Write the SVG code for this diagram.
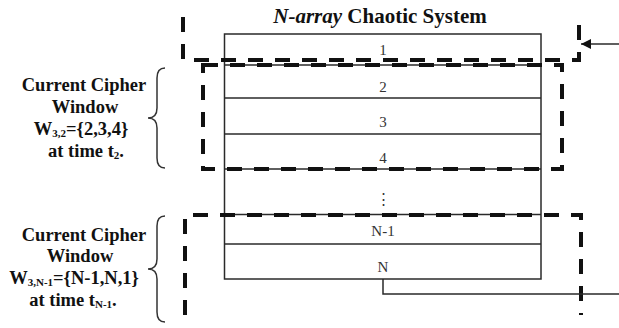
<svg xmlns="http://www.w3.org/2000/svg" width="619" height="328" viewBox="0 0 619 328">
<style>
.bg{fill:#ffffff}
.cell{fill:none;stroke:#2a2a2a;stroke-width:1.5}
.num{font-family:"Liberation Serif","Times New Roman",serif;font-size:15px;fill:#333;text-anchor:middle}
.lbl{font-family:"Liberation Serif","Times New Roman",serif;font-size:18.5px;font-weight:bold;fill:#111;text-anchor:middle}
.sub{font-size:11px}
.title{font-family:"Liberation Serif","Times New Roman",serif;font-size:21px;font-weight:bold;fill:#111;text-anchor:middle}
.win{fill:none;stroke:#111;stroke-width:4;stroke-dasharray:15 12}
.brace{fill:none;stroke:#333;stroke-width:1.5}
.conn{fill:none;stroke:#2a2a2a;stroke-width:1.5}
</style>
<defs>
<marker id="arr" markerWidth="10" markerHeight="10" refX="10" refY="5" orient="auto" markerUnits="userSpaceOnUse">
<path d="M0,0 L10,5 L0,10 Z" fill="#111"/>
</marker>
</defs>
<rect class="bg" x="0" y="0" width="619" height="328"/>
<g id="title"><text class="title" x="380" y="23"><tspan font-style="italic">N-array</tspan> Chaotic System</text></g>
<g id="system">
<rect class="cell" x="224.5" y="34" width="316.5" height="245"/>
<g id="row1"><text class="num" x="383" y="55">1</text></g>
<g id="row2"><line class="cell" x1="224.5" y1="65" x2="541" y2="65"/><text class="num" x="383" y="92">2</text></g>
<g id="row3"><line class="cell" x1="224.5" y1="98" x2="541" y2="98"/><text class="num" x="383" y="127">3</text></g>
<g id="row4"><line class="cell" x1="224.5" y1="134" x2="541" y2="134"/><text class="num" x="383" y="163">4</text></g>
<g id="rowdots"><line class="cell" x1="224.5" y1="169" x2="541" y2="169"/><text class="num" x="383" y="204" font-family="DejaVu Serif" font-size="16">⋮</text></g>
<g id="rowN-1"><line class="cell" x1="224.5" y1="214.5" x2="541" y2="214.5"/><text class="num" x="383" y="236">N-1</text></g>
<g id="rowN"><line class="cell" x1="224.5" y1="244" x2="541" y2="244"/><text class="num" x="383" y="272">N</text></g>
</g>
<g id="window-top"><path class="win" d="M183,17 V60 H579 V17"/></g>
<g id="window-2"><rect class="win" x="203" y="65" width="359" height="104"/></g>
<g id="window-N-1"><path class="win" d="M185,315 V215 H581 V315"/></g>
<g id="label-1">
<path class="brace" d="M165,68 Q157,68 157,78 V108 Q157,118 148,118 Q157,118 157,128 V158 Q157,168 165,168"/>
<text class="lbl" x="84" y="91">Current Cipher</text>
<text class="lbl" x="85" y="113">Window</text>
<text class="lbl" x="81" y="135">W<tspan class="sub" dy="2">3,2</tspan><tspan dy="-2">={2,3,4}</tspan></text>
<text class="lbl" x="86" y="157">at time t<tspan class="sub" dy="2">2</tspan><tspan dy="-2">.</tspan></text>
</g>
<g id="label-2">
<path class="brace" d="M165,216 Q157,216 157,226 V259 Q157,269 148,269 Q157,269 157,279 V312 Q157,322 165,322"/>
<text class="lbl" x="84" y="241">Current Cipher</text>
<text class="lbl" x="80" y="262">Window</text>
<text class="lbl" x="74" y="284">W<tspan class="sub" dy="2">3,N-1</tspan><tspan dy="-2">={N-1,N,1}</tspan></text>
<text class="lbl" x="73" y="306">at time t<tspan class="sub" dy="2">N-1</tspan><tspan dy="-2">.</tspan></text>
</g>
<g id="connectors">
<line class="conn" x1="619" y1="44" x2="581" y2="44" marker-end="url(#arr)"/>
<path class="conn" d="M383,279 V294 H619"/>
</g>
</svg>
